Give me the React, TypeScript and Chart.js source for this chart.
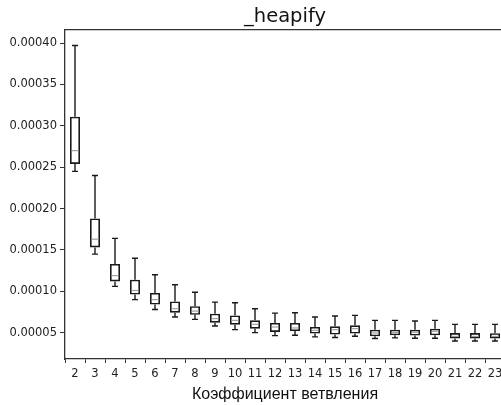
import React, { useEffect, useRef } from 'react';
import { Chart, registerables } from 'chart.js';

Chart.register(...registerables);

const categories = ['2','3','4','5','6','7','8','9','10','11','12','13','14','15','16','17','18','19','20','21','22','23'];
const whiskerLow = [0.000245,0.000145,0.000106,0.000090,0.000078,0.0000689,0.0000661,0.000058,0.0000537,0.0000501,0.0000465,0.0000469,0.0000449,0.0000441,0.0000457,0.0000429,0.0000437,0.0000433,0.0000433,0.000040,0.000040,0.000040];
const q1 = [0.000254,0.000153,0.000112,0.000096,0.000084,0.0000742,0.0000717,0.0000621,0.0000597,0.0000549,0.0000509,0.000052,0.0000489,0.0000477,0.0000489,0.0000457,0.0000469,0.0000465,0.0000469,0.000043,0.000043,0.000043];
const median = [0.000270,0.000163,0.000119,0.000101,0.000090,0.000079,0.0000761,0.000067,0.0000649,0.0000601,0.0000569,0.0000557,0.0000529,0.0000537,0.0000549,0.0000497,0.0000501,0.0000505,0.0000517,0.0000455,0.0000455,0.0000455];
const q3 = [0.000311,0.000188,0.000133,0.000114,0.000098,0.0000877,0.0000821,0.0000729,0.0000709,0.0000649,0.0000617,0.0000617,0.0000569,0.0000577,0.0000589,0.0000537,0.0000537,0.0000537,0.0000549,0.0000495,0.0000495,0.0000493];
const whiskerHigh = [0.000397,0.000240,0.000164,0.000140,0.000120,0.000108,0.0000989,0.0000869,0.0000862,0.000079,0.0000737,0.0000741,0.0000689,0.0000701,0.0000709,0.0000649,0.0000649,0.0000641,0.0000649,0.0000601,0.0000601,0.000060];
const yTicks = [0.00005,0.0001,0.00015,0.0002,0.00025,0.0003,0.00035,0.0004];
const yMin = 0.0000182;
const yMax = 0.0004158;
const titleText = '_heapify';
const xTitle = 'Коэффициент ветвления';

const LINE = '#1a1a1a';

const boxExtras = {
  id: 'boxExtras',
  afterDatasetsDraw(chart: any) {
    const { ctx } = chart;
    const xs = chart.scales.x;
    const ys = chart.scales.y;
    const meta = chart.getDatasetMeta(0);
    ctx.save();
    ctx.lineCap = 'butt';
    for (let i = 0; i < categories.length; i++) {
      const x = xs.getPixelForValue(i);
      const bw = meta.data[i] ? meta.data[i].width : 10;
      const half = bw / 2;
      const cap = bw / 4 + 0.5;
      const yl = ys.getPixelForValue(whiskerLow[i]);
      const y1 = ys.getPixelForValue(q1[i]);
      const ym = ys.getPixelForValue(median[i]);
      const y3 = ys.getPixelForValue(q3[i]);
      const yh = ys.getPixelForValue(whiskerHigh[i]);
      ctx.strokeStyle = LINE;
      ctx.lineWidth = 1.4;
      ctx.beginPath();
      ctx.moveTo(x, y3); ctx.lineTo(x, yh);
      ctx.moveTo(x - cap, yh); ctx.lineTo(x + cap, yh);
      ctx.moveTo(x, y1); ctx.lineTo(x, yl);
      ctx.moveTo(x - cap, yl); ctx.lineTo(x + cap, yl);
      ctx.stroke();
      ctx.strokeStyle = '#a0a0a0';
      ctx.lineWidth = 1.2;
      ctx.beginPath();
      ctx.moveTo(x - half + 1.5, ym); ctx.lineTo(x + half - 1.5, ym);
      ctx.stroke();
    }
    ctx.restore();
  },
};

export default function App() {
  const ref = useRef<HTMLCanvasElement | null>(null);
  useEffect(() => {
    if (!ref.current) return;
    const chart = new Chart(ref.current, {
      type: 'bar',
      data: {
        labels: categories,
        datasets: [
          {
            data: q1.map((v, i) => [v, q3[i]]) as any,
            backgroundColor: 'rgba(255,255,255,0)',
            borderColor: LINE,
            borderWidth: 1.6,
            borderSkipped: false,
            barPercentage: 0.5,
            categoryPercentage: 1.0,
          },
        ],
      },
      options: {
        responsive: false,
        animation: false,
        layout: { padding: { left: 0, right: 5, top: 0, bottom: 0 } },
        plugins: {
          legend: { display: false },
          tooltip: { enabled: false },
          title: { display: false },
        },
        scales: {
          x: {
            type: 'category',
            offset: true,
            grid: { display: true, drawOnChartArea: false, drawTicks: true, tickLength: 4, color: '#333', lineWidth: 1 },
            border: { display: true, color: '#333', width: 1.3 },
            ticks: { color: '#222', font: { family: 'DejaVu Sans', size: 11.5 }, padding: 4, maxRotation: 0, autoSkip: false },
            title: {
              display: true,
              text: xTitle,
              color: '#111',
              font: { family: 'Liberation Sans', size: 16 },
              padding: { top: 0, bottom: 0.5 },
            },
            afterFit: (s: any) => { s.height = 46; },
          },
          xTop: {
            type: 'category',
            position: 'top',
            display: true,
            offset: true,
            grid: { display: true, drawOnChartArea: false, drawTicks: false },
            border: { display: true, color: '#333', width: 1.3 },
            ticks: { display: false },
            title: {
              display: true,
              text: titleText,
              color: '#111',
              font: { family: 'DejaVu Sans', size: 19.5 },
              padding: { top: 4.8, bottom: 0 },
            },
            afterFit: (s: any) => { s.height = 30; },
          },
          y: {
            type: 'linear',
            min: yMin,
            max: yMax,
            afterBuildTicks: (s: any) => { s.ticks = yTicks.map((v) => ({ value: v })); },
            grid: { display: true, drawOnChartArea: false, drawTicks: true, tickLength: 5, color: '#333', lineWidth: 1 },
            border: { display: true, color: '#333', width: 1.3 },
            ticks: {
              color: '#222',
              font: { family: 'DejaVu Sans', size: 11.5 },
              padding: 3,
              callback: (v: any) => Number(v).toFixed(5),
            },
            afterFit: (s: any) => { s.width = 65; },
          },
        },
      },
      plugins: [boxExtras],
    });
    return () => chart.destroy();
  }, []);
  return (
    <div style={{ position: 'absolute', left: 0, top: 0, width: 501, height: 405, overflow: 'hidden', background: '#fff' }}>
      <canvas ref={ref} width={510} height={405} style={{ display: 'block' }} />
    </div>
  );
}
